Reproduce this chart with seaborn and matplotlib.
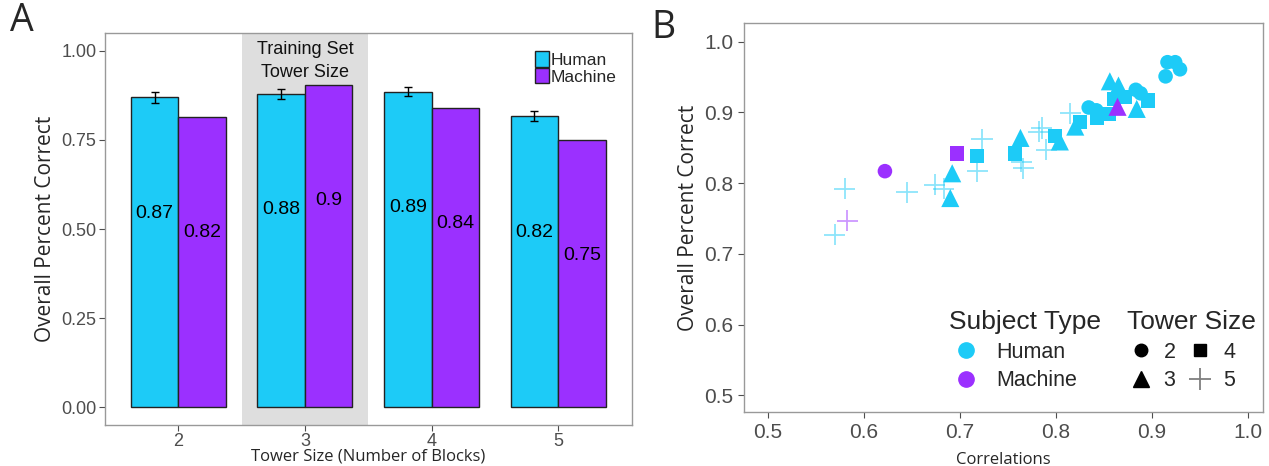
import pandas as pd
import matplotlib
matplotlib.use("Agg")
import matplotlib.pyplot as plt
from matplotlib.lines import Line2D
from matplotlib.patches import Patch
import seaborn as sns

# ---- Panel A data
tower_sizes = ["2", "3", "4", "5"]
human_acc = [0.870, 0.879, 0.886, 0.816]
machine_acc = [0.815, 0.904, 0.840, 0.750]
human_err = [0.016, 0.0135, 0.013, 0.014]
bar_labels_human = ["0.87", "0.88", "0.89", "0.82"]
bar_labels_machine = ["0.82", "0.9", "0.84", "0.75"]

# ---- Panel B data (correlation, percent correct)
human_circ_x = [0.916, 0.924, 0.929, 0.914, 0.883, 0.888, 0.834, 0.842]
human_circ_y = [0.971, 0.971, 0.961, 0.951, 0.932, 0.927, 0.907, 0.903]
human_tri_x = [0.856, 0.865, 0.884, 0.820, 0.804, 0.763, 0.692, 0.690]
human_tri_y = [0.944, 0.938, 0.905, 0.880, 0.859, 0.864, 0.814, 0.779]
human_sq_x = [0.860, 0.872, 0.896, 0.843, 0.855, 0.825, 0.799, 0.757, 0.718]
human_sq_y = [0.919, 0.922, 0.917, 0.893, 0.898, 0.887, 0.867, 0.842, 0.838]
human_plus_x = [0.580, 0.570, 0.645, 0.674, 0.683, 0.723, 0.718, 0.764, 0.766, 0.785, 0.782, 0.790, 0.815]
human_plus_y = [0.792, 0.727, 0.787, 0.798, 0.792, 0.862, 0.817, 0.830, 0.821, 0.878, 0.873, 0.847, 0.899]
machine_x = [0.622, 0.864, 0.697, 0.583]
machine_y = [0.817, 0.908, 0.842, 0.747]
machine_tower = [2, 3, 4, 5]

cyan = "#1DCBF7"
purple = "#9B30FF"
tick_gray = "#4D4D4D"
frame_gray = "#999999"

sns.set_theme(style="white")
plt.rcParams["font.family"] = ["Liberation Sans", "DejaVu Sans"]
title_font = ["Open Sans", "DejaVu Sans"]

fig = plt.figure(figsize=(12.69, 4.66), dpi=100)
axA = fig.add_axes([0.0827, 0.088, 0.415, 0.841])
axB = fig.add_axes([0.586, 0.115, 0.409, 0.835])

# ---------------- Panel A ----------------
dfA = pd.DataFrame({
    "tower": tower_sizes * 2,
    "acc": human_acc + machine_acc,
    "subject": ["Human"] * 4 + ["Machine"] * 4,
})
axA.axvspan(0.5, 1.5, color="#DEDEDE", zorder=0, lw=0)
sns.barplot(data=dfA, x="tower", y="acc", hue="subject", order=tower_sizes,
            hue_order=["Human", "Machine"], palette={"Human": cyan, "Machine": purple},
            width=0.75, errorbar=None, edgecolor="#222222", linewidth=1,
            saturation=1, ax=axA, zorder=2)

human_bars = axA.containers[0]
machine_bars = axA.containers[1]
hx = [b.get_x() + b.get_width() / 2 for b in human_bars]
axA.errorbar(hx, human_acc, yerr=human_err, fmt="none", ecolor="black",
             elinewidth=1, capsize=3, capthick=1, zorder=3)
for bars, labs in [(human_bars, bar_labels_human), (machine_bars, bar_labels_machine)]:
    for b, lab in zip(bars, labs):
        axA.text(b.get_x() + b.get_width() / 2, b.get_height() - 0.325, lab,
                 ha="center", va="center", fontsize=14, color="black", zorder=4)

axA.text(1, 1.005, "Training Set", ha="center", va="center", fontsize=13, color="#111111")
axA.text(1, 0.94, "Tower Size", ha="center", va="center", fontsize=13, color="#111111")

axA.set_xlim(-0.58, 3.58)
axA.set_ylim(-0.05, 1.05)
axA.set_yticks([0, 0.25, 0.5, 0.75, 1.0])
axA.set_yticklabels(["0.00", "0.25", "0.50", "0.75", "1.00"])
axA.set_xlabel("Tower Size (Number of Blocks)", fontsize=12, family=title_font, labelpad=-1)
axA.set_ylabel("Overall Percent Correct", fontsize=15, family=title_font, labelpad=4)
axA.tick_params(axis="both", colors=tick_gray, labelsize=13, length=4, width=0.8,
                bottom=True, left=True, pad=2)
for sp in axA.spines.values():
    sp.set_color(frame_gray)
    sp.set_linewidth(1)
axA.legend(handles=[Patch(facecolor=cyan, edgecolor="#222222", label="Human"),
                    Patch(facecolor=purple, edgecolor="#222222", label="Machine")],
           loc="upper right", bbox_to_anchor=(0.995, 0.985), frameon=False,
           fontsize=12.5, handlelength=0.8, handleheight=1.0, handletextpad=0.1,
           labelspacing=0.0, borderpad=0.2)

fig.text(0.008, 0.955, "A", fontsize=27, family=title_font, va="center", ha="left")
fig.text(0.513, 0.94, "B", fontsize=27, family=title_font, va="center", ha="left")

# ---------------- Panel B ----------------
dfB = pd.DataFrame({
    "corr": human_circ_x + human_tri_x + human_sq_x + human_plus_x + machine_x,
    "pct": human_circ_y + human_tri_y + human_sq_y + human_plus_y + machine_y,
    "subject": ["Human"] * (len(human_circ_x) + len(human_tri_x) + len(human_sq_x) + len(human_plus_x))
               + ["Machine"] * len(machine_x),
    "tower": [2] * len(human_circ_x) + [3] * len(human_tri_x) + [4] * len(human_sq_x)
             + [5] * len(human_plus_x) + machine_tower,
})
marker_map = {2: "o", 3: "^", 4: "s", 5: "+"}
size_map = {2: 110, 3: 170, 4: 105, 5: 230}
for t in [5, 2, 4, 3]:
    sub = dfB[dfB["tower"] == t]
    if t == 5:
        sns.scatterplot(data=sub, x="corr", y="pct", hue="subject",
                        palette={"Human": cyan, "Machine": purple}, marker="+",
                        s=size_map[t], linewidth=1.3, alpha=0.5, legend=False, ax=axB)
    else:
        sns.scatterplot(data=sub, x="corr", y="pct", hue="subject",
                        palette={"Human": cyan, "Machine": purple}, marker=marker_map[t],
                        s=size_map[t], linewidth=0, legend=False, ax=axB)

axB.set_xlim(0.475, 1.015)
axB.set_ylim(0.476, 1.026)
axB.set_xticks([0.5, 0.6, 0.7, 0.8, 0.9, 1.0])
axB.set_yticks([0.5, 0.6, 0.7, 0.8, 0.9, 1.0])
axB.set_xlabel("Correlations", fontsize=12, family=title_font, labelpad=7)
axB.set_ylabel("Overall Percent Correct", fontsize=15, family=title_font, labelpad=4)
axB.tick_params(axis="both", colors=tick_gray, labelsize=15, length=4, width=0.8,
                bottom=True, left=True)
for sp in axB.spines.values():
    sp.set_color(frame_gray)
    sp.set_linewidth(1)

subj_handles = [Line2D([], [], ls="", marker="o", markersize=11, color=cyan, label="Human"),
                Line2D([], [], ls="", marker="o", markersize=11, color=purple, label="Machine")]
leg1 = axB.legend(handles=subj_handles, title="Subject Type", loc="upper left",
                  bbox_to_anchor=(0.375, 0.29), frameon=False, fontsize=15.5,
                  title_fontsize=19, alignment="left", handletextpad=0.6,
                  labelspacing=0.35, borderpad=0, handlelength=1.6)
axB.add_artist(leg1)
tower_handles = [Line2D([], [], ls="", marker="o", markersize=9, color="black", label="2"),
                 Line2D([], [], ls="", marker="^", markersize=11, color="black", label="3"),
                 Line2D([], [], ls="", marker="s", markersize=9, color="black", label="4"),
                 Line2D([], [], ls="", marker="+", markersize=16, mew=1.3, color="black",
                        alpha=0.5, label="5")]
axB.legend(handles=tower_handles, title="Tower Size", loc="upper left",
           bbox_to_anchor=(0.718, 0.29), frameon=False, fontsize=15.5, ncol=2,
           title_fontsize=19, alignment="left", handletextpad=0.4, columnspacing=0.5,
           labelspacing=0.35, borderpad=0, handlelength=1.3)

fig.savefig("out.png", dpi=100, facecolor="white")
